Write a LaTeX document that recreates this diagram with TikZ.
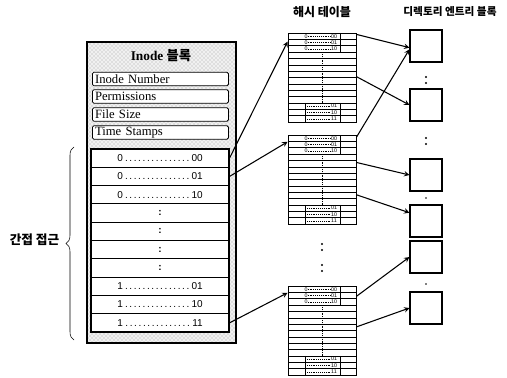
\documentclass[tikz,border=0pt]{standalone}
\usepackage{fontspec}
\setmainfont{Liberation Serif}
\newfontfamily\krfont{Noto Sans CJK KR}
\newfontfamily\numfont{Liberation Sans}
\usetikzlibrary{calc,patterns,decorations.pathreplacing}

\tikzset{
  field/.style={draw,semithick,fill=white,rounded corners=1pt,anchor=west,inner xsep=2pt,inner ysep=0pt,
    text width=98pt,minimum height=10pt,font=\fontsize{9.5}{10}\selectfont},
  idxrow/.style={draw,thick,fill=white,minimum width=103.5pt,minimum height=13.73pt,inner sep=0pt,
    text width=64pt,align=center,font=\numfont\fontsize{7.5}{8}\selectfont},
  htab/.style={draw,semithick,minimum width=51pt,minimum height=66.75pt,inner sep=0pt},
  htext/.style={font=\numfont\fontsize{4}{4}\selectfont,inner sep=0pt},
  dblock/.style={draw,thick,minimum width=24pt,minimum height=24pt,inner sep=0pt},
  krhead/.style={font=\krfont\bfseries\fontsize{#1}{#1}\selectfont},
  link/.style={thick,->},
}

% hash table: name, top
\newcommand{\hashtable}[2]{%
  \node[htab] (#1) at (322,#2+44.5) {};
  \foreach \k in {1,...,13}
    \draw (288,#2+\k*6.357) -- (356,#2+\k*6.357);
  \draw (340,#2) -- (340,#2+19.07);
  \foreach \j/\lab in {0/00,1/01,2/10} {
    \node[htext] (#1a\j) at (306,#2+\j*6.357+3.18) {0};
    \node[htext] (#1b\j) at (334,#2+\j*6.357+3.18) {\lab};
    \draw[densely dotted] (#1a\j.east) -- (#1b\j.west);
  }
  \draw[densely dotted] (322,#2+19.07) -- (322,#2+69.93);
  \draw (305,#2+69.93) -- (305,#2+89) (340,#2+69.93) -- (340,#2+89);
  \foreach \j/\lab in {11/01,12/10,13/11} {
    \node[htext] (#1c\j) at (334,#2+\j*6.357+3.18) {\lab};
    \draw[densely dotted] (307,#2+\j*6.357+3.18) -- (#1c\j.west);
  }
}

\begin{document}
\begin{tikzpicture}[x=0.75pt,y=-0.75pt,>=stealth]
\useasboundingbox (0,0) rectangle (507,378);

\node[krhead=9] (hth) at (322,12) {해시 테이블};
\node[krhead=8] (dbh) at (450,12) {디렉토리 엔트리 블록};

% inode
\draw[thick,preaction={fill=gray!12},pattern=crosshatch dots,pattern color=gray!70] (87,42) rectangle (236,343);
\node[font=\bfseries\fontsize{10}{10}\selectfont] (ihd) at (161,56) {Inode {\krfont\bfseries 블록}};
\node[field] (f1) at (92,79) {Inode Number};
\node[field] (f2) at (92,96.5) {Permissions};
\node[field] (f3) at (92,114.5) {File Size};
\node[field] (f4) at (92,132.5) {Time Stamps};
\foreach \i/\t in {1/{0\dotfill00},2/{0\dotfill01},3/{0\dotfill10},4/{\textbf{:}},5/{\textbf{:}},6/{\textbf{:}},7/{\textbf{:}},8/{1\dotfill01},9/{1\dotfill10},10/{1\dotfill11}}
  \node[idxrow] (r\i) at (160,149+18.3*\i-9.15) {\t};

\draw[decorate,decoration={brace,amplitude=6pt}] (74,340) -- (74,147);
\node[font=\krfont\bfseries\fontsize{9.5}{10}\selectfont,anchor=east] (bl) at (64,240) {간접 접근};

% hash tables
\hashtable{h1}{33}
\hashtable{h2}{135}
\hashtable{h3}{286}
\fill (322,244) circle (0.9pt) (322,250) circle (0.9pt);
\fill (322,265) circle (0.9pt) (322,271) circle (0.9pt);

% directory blocks
\node[dblock] (d1) at (426,46) {};
\node[dblock] (d2) at (426,105) {};
\node[dblock] (d3) at (426,175) {};
\node[dblock] (d4) at (426,221) {};
\node[dblock] (d5) at (426,257) {};
\node[dblock] (d6) at (426,308) {};
\fill (426,77) circle (0.9pt) (426,83) circle (0.9pt);
\fill (426,138) circle (0.9pt) (426,144) circle (0.9pt);
\fill (426,198) circle (0.7pt);
\fill (426,284) circle (0.7pt);

% arrows
\draw[link] (r1.east) -- ($(h1.north west)!0.1!(h1.south west)$);
\draw[link] (r2.east) -- ($(h2.north west)!0.08!(h2.south west)$);
\draw[link] (r10.east) -- ($(h3.north west)!0.08!(h3.south west)$);
\draw[link] ($(h1.north east)!0.02!(h1.south east)$) -- ($(d1.north west)!0.55!(d1.south west)$);
\draw[link] ($(h1.north east)!0.49!(h1.south east)$) -- (d2.west);
\draw[link] ($(h2.north east)!0.03!(h2.south east)$) -- ($(d1.north west)!0.6!(d1.south west)$);
\draw[link] ($(h2.north east)!0.31!(h2.south east)$) -- (d3.west);
\draw[link] ($(h2.north east)!0.67!(h2.south east)$) -- ($(d4.north west)!0.25!(d4.south west)$);
\draw[link] ($(h3.north east)!0.12!(h3.south east)$) -- (d5.west);
\draw[link] ($(h3.north east)!0.46!(h3.south east)$) -- (d6.west);
\end{tikzpicture}
\end{document}
